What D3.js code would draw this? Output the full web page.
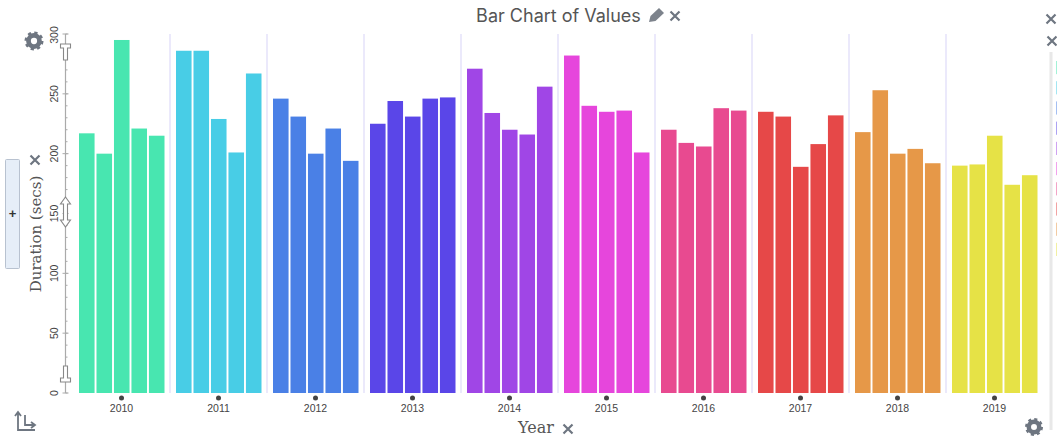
<!DOCTYPE html>
<html>
<head>
<meta charset="utf-8">
<script src="https://cdn.jsdelivr.net/npm/d3@7"></script>
<style>
  html, body { margin: 0; padding: 0; background: #fff; overflow: hidden; }
  .tick-label { font-family: "Liberation Sans", sans-serif; font-size: 10.5px; fill: #444; }
  .axis-title { font-family: "DejaVu Serif", serif; font-size: 15px; fill: #555; }
  .chart-title { font-family: "Inter", sans-serif; font-size: 18px; fill: #555; }
</style>
</head>
<body>
<div id="chart"></div>
<script>
const years = [2010, 2011, 2012, 2013, 2014, 2015, 2016, 2017, 2018, 2019];
const slots = [0, 1, 2, 3, 4];
const durations = [
  [217, 200, 295, 221, 215],
  [286, 286, 229, 201, 267],
  [246, 231, 200, 221, 194],
  [225, 244, 231, 246, 247],
  [271, 234, 220, 216, 256],
  [282, 240, 235, 236, 201],
  [220, 209, 206, 238, 236],
  [235, 231, 189, 208, 232],
  [218, 253, 200, 204, 192],
  [190, 191, 215, 174, 182]
];
const yearColors = ["#48e6b0", "#48cde6", "#4a80e6", "#5a46e8", "#a046e6", "#e646dc", "#e84a90", "#e64848", "#e69848", "#e6e246"];
const yTicks = [0, 50, 100, 150, 200, 250, 300];
const yMinorTicks = d3.range(0, 301, 10);

const svg = d3.select("#chart").append("svg")
  .attr("width", 1057)
  .attr("height", 438);

// scales
const x = d3.scaleBand().domain(years).range([73, 1043]);
const xInner = d3.scaleBand().domain(slots).range([6, 91.5]).paddingInner(0.11);
const y = d3.scaleLinear().domain([0, 300]).range([393, 34]);

// separators between years
svg.selectAll(".sep")
  .data(years.slice(0, -1))
  .enter().append("line")
  .attr("class", "sep")
  .attr("x1", (d, i) => x(years[0]) + x.bandwidth() * (i + 1))
  .attr("x2", (d, i) => x(years[0]) + x.bandwidth() * (i + 1))
  .attr("y1", 34)
  .attr("y2", 393)
  .attr("stroke", "#e4e2fa")
  .attr("stroke-width", 1.5);

// bars
const groups = svg.selectAll(".year")
  .data(years)
  .enter().append("g")
  .attr("class", "year")
  .attr("transform", d => `translate(${x(d)},0)`);

groups.selectAll("rect")
  .data((d, i) => durations[i].map(v => ({ v, color: yearColors[i] })))
  .enter().append("rect")
  .attr("x", (d, i) => xInner(i))
  .attr("y", d => y(d.v))
  .attr("width", xInner.bandwidth())
  .attr("height", d => 393 - y(d.v))
  .attr("fill", d => d.color);

// x axis labels and handle dots
svg.selectAll(".dot")
  .data(years)
  .enter().append("circle")
  .attr("cx", d => x(d) + x.bandwidth() / 2)
  .attr("cy", 398)
  .attr("r", 2.5)
  .attr("fill", "#444");

const xAxis = svg.append("g")
  .attr("transform", "translate(0,393)")
  .call(d3.axisBottom(x).tickSize(0).tickPadding(12));
xAxis.select(".domain").remove();
xAxis.selectAll("text")
  .attr("class", "tick-label")
  .attr("font-size", null)
  .attr("font-family", null);

// y axis with minor ticks
const yAxis = svg.append("g").attr("transform", "translate(65.5,0)");
yAxis.append("line")
  .attr("y1", y(300)).attr("y2", y(0))
  .attr("stroke", "#aaa").attr("stroke-width", 1.2);
yAxis.selectAll(".minor")
  .data(yMinorTicks)
  .enter().append("line")
  .attr("x1", 0).attr("x2", 2)
  .attr("y1", d => y(d)).attr("y2", d => y(d))
  .attr("stroke", "#aaa");
yAxis.selectAll(".major")
  .data(yTicks)
  .enter().append("line")
  .attr("x1", -3).attr("x2", 3)
  .attr("y1", d => y(d)).attr("y2", d => y(d))
  .attr("stroke", "#aaa");
yAxis.selectAll(".tick-label")
  .data(yTicks)
  .enter().append("text")
  .attr("class", "tick-label")
  .attr("text-anchor", "middle")
  .attr("transform", d => `translate(-7.5,${y(d) + (d === 300 ? 1 : 0)}) rotate(-90)`)
  .text(d => d);

// y axis drag handles
const handle = "#888";
function outline(d) {
  yAxis.append("path").attr("d", d).attr("fill", "#fff").attr("stroke", handle).attr("stroke-width", 1.1);
}
outline("M-5,44 L5,44 L5,48 L2,48 L2,60 L-2,60 L-2,48 L-5,48 Z");
outline("M-5,382 L5,382 L5,378 L2,378 L2,366 L-2,366 L-2,378 L-5,378 Z");
outline("M0,197 L5,204 L2,204 L2,220 L5,220 L0,227 L-5,220 L-2,220 L-2,204 L-5,204 Z");

// plus box
svg.append("rect")
  .attr("x", 5.5).attr("y", 159.5).attr("width", 14).attr("height", 109)
  .attr("rx", 1)
  .attr("fill", "#e6eef8").attr("stroke", "#b8c2d0");
svg.append("text")
  .attr("x", 12.5).attr("y", 218)
  .attr("text-anchor", "middle")
  .attr("font-family", "Liberation Sans")
  .attr("font-size", 13)
  .attr("font-weight", "bold")
  .attr("fill", "#333")
  .text("+");

// titles
svg.append("text")
  .attr("class", "chart-title")
  .attr("x", 558.5).attr("y", 22)
  .attr("text-anchor", "middle")
  .text("Bar Chart of Values");
svg.append("text")
  .attr("class", "axis-title")
  .attr("x", 536).attr("y", 433)
  .attr("text-anchor", "middle")
  .style("font-size", "16px")
  .text("Year");
svg.append("text")
  .attr("class", "axis-title")
  .attr("text-anchor", "middle")
  .attr("transform", "translate(41,234) rotate(-90)")
  .text("Duration (secs)");

// editor icons
function cross(cx, cy, r) {
  svg.append("path")
    .attr("d", `M${cx - r},${cy - r} L${cx + r},${cy + r} M${cx - r},${cy + r} L${cx + r},${cy - r}`)
    .attr("stroke", "#6e7681").attr("stroke-width", 2.2).attr("fill", "none");
}
cross(675, 16, 4.5);
cross(35, 160, 4.5);
cross(568, 429, 4.5);
cross(1051, 19, 4.5);
cross(1052, 41, 4.5);

svg.append("path")
  .attr("d", "M649,22 L650.5,16 L659,8 L664,13 L655.5,21 Z")
  .attr("fill", "#7d838c");

// solid gear: ring plus dashed outer ring for the teeth
function gear(cx, cy, r) {
  svg.append("circle")
    .attr("cx", cx).attr("cy", cy).attr("r", r * 0.58)
    .attr("fill", "none").attr("stroke", "#6e7681").attr("stroke-width", r * 0.5);
  const toothRing = r * 0.85;
  const dash = 2 * Math.PI * toothRing / 16;
  svg.append("circle")
    .attr("cx", cx).attr("cy", cy).attr("r", toothRing)
    .attr("fill", "none").attr("stroke", "#6e7681").attr("stroke-width", r * 0.3)
    .attr("stroke-dasharray", `${dash} ${dash}`);
}
gear(34, 41, 9.5);
gear(1034, 427, 9);

// axes swap icon
svg.append("path")
  .attr("d", "M15,416 L18,412 L21,416 M18,412 L18,430 L35,430 M25,415 L25,425 L34,425 M31,422 L35,425 L31,428")
  .attr("fill", "none").attr("stroke", "#6e7681").attr("stroke-width", 1.8);

// legend strip, cut off at the right edge
svg.append("line")
  .attr("x1", 1051).attr("x2", 1051)
  .attr("y1", 52).attr("y2", 430)
  .attr("stroke", "#e8e8e8").attr("stroke-width", 3);
const legend = d3.scaleBand().domain(years).range([61, 256]).paddingInner(0.35);
svg.selectAll(".swatch")
  .data(years)
  .enter().append("rect")
  .attr("x", 1056)
  .attr("y", d => legend(d))
  .attr("width", 1)
  .attr("height", legend.bandwidth())
  .attr("fill", (d, i) => yearColors[i])
  .attr("opacity", 0.5);
</script>
</body>
</html>
